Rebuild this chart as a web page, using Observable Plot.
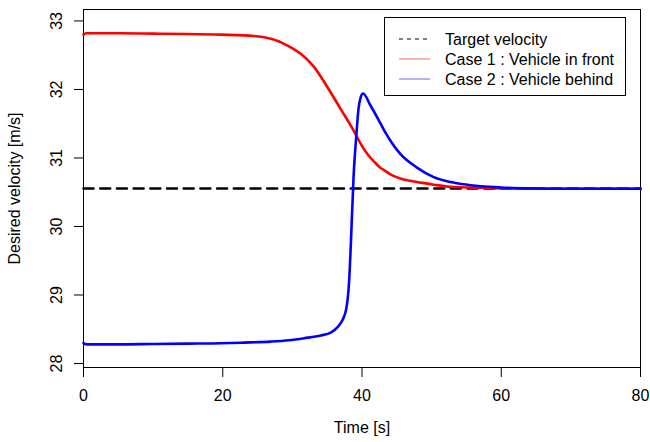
<!DOCTYPE html>
<html>
<head>
<meta charset="utf-8">
<script src="https://cdn.jsdelivr.net/npm/d3@7"></script>
<script src="https://cdn.jsdelivr.net/npm/@observablehq/plot@0.6"></script>
<style>
  html, body { margin: 0; padding: 0; background: #fff; }
  #wrap { position: relative; width: 650px; height: 442px; font-family: "Liberation Sans", Arial, sans-serif; }
  #legend { position: absolute; left: 384px; top: 17px; width: 242px; height: 79px; border: 1px solid #000; background: #fff; box-sizing: border-box; }
  #legend svg { position: absolute; left: 0; top: 0; }
</style>
</head>
<body>
<div id="wrap"></div>
<script>
const targetVelocity = 30.553;

const timeCase1 = [0, 0.4, 5, 10, 15, 19.7, 24.5, 26.9, 28.1, 29.3, 30.2, 31.2, 33.1, 35.0, 36.9, 38.8, 39.8, 40.8, 41.8, 42.5, 43.2, 44.3, 45.5, 46.7, 47.9, 50.3, 52.7, 57.5, 62, 70, 80];
const velCase1 = [32.80, 32.82, 32.82, 32.815, 32.81, 32.80, 32.78, 32.74, 32.70, 32.64, 32.59, 32.52, 32.33, 32.04, 31.72, 31.40, 31.21, 31.055, 30.94, 30.87, 30.82, 30.75, 30.70, 30.67, 30.65, 30.61, 30.58, 30.565, 30.555, 30.55, 30.55];

const timeCase2 = [0, 0.4, 5, 10, 15, 19.7, 23, 26.9, 29.5, 31.7, 34.1, 35.5, 36.5, 37.0, 37.4, 37.7, 37.95, 38.15, 38.4, 38.8, 39.2, 39.5, 39.8, 40.15, 41.2, 42.2, 43.2, 44.3, 45.5, 47.9, 50.3, 52.7, 55.1, 59.9, 65, 70, 80];
const velCase2 = [28.30, 28.28, 28.28, 28.285, 28.29, 28.295, 28.305, 28.32, 28.34, 28.37, 28.41, 28.45, 28.53, 28.60, 28.68, 28.78, 28.95, 29.2, 29.75, 30.75, 31.35, 31.72, 31.88, 31.94, 31.77, 31.59, 31.40, 31.22, 31.06, 30.86, 30.72, 30.65, 30.61, 30.57, 30.555, 30.55, 30.55];

const xTicks = [0, 20, 40, 60, 80];
const yTicks = [28, 29, 30, 31, 32, 33];
const legendLabels = ["Target velocity", "Case 1 : Vehicle in front", "Case 2 : Vehicle behind"];
const legendColors = ["#000000", "#ff0000", "#0000ff"];

const case1 = timeCase1.map((t, i) => ({t, v: velCase1[i]}));
const case2 = timeCase2.map((t, i) => ({t, v: velCase2[i]}));
const target = [{t: 0, v: targetVelocity}, {t: 80, v: targetVelocity}];

const chart = Plot.plot({
  width: 650,
  height: 442,
  marginLeft: 83,
  marginRight: 10,
  marginTop: 9,
  marginBottom: 75,
  style: {fontFamily: '"Liberation Sans", Arial, sans-serif', fontSize: "16px", color: "#000", background: "#fff"},
  x: {domain: [0, 80]},
  y: {domain: [27.942, 33.167]},
  marks: [
    Plot.frame({stroke: "#000", strokeWidth: 1}),
    Plot.axisX({ticks: xTicks, tickSize: 10, tickPadding: 12, stroke: "#000", fontSize: 16, tickFormat: "d",
      label: "Time [s]", labelAnchor: "center", labelArrow: "none", labelOffset: 65}),
    Plot.axisY({ticks: yTicks, tickSize: 9, tickPadding: 13, tickRotate: -90, stroke: "#000", fontSize: 16, tickFormat: "d",
      label: "Desired velocity [m/s]", labelAnchor: "center", labelArrow: "none", labelOffset: 75}),
    Plot.line(target, {x: "t", y: "v", stroke: "#000", strokeWidth: 2.5, strokeDasharray: "10,6.7"}),
    Plot.line(case1, {x: "t", y: "v", stroke: "#ff0000", strokeWidth: 2.6, curve: "monotone-x"}),
    Plot.line(case2, {x: "t", y: "v", stroke: "#0000ff", strokeWidth: 2.6, curve: "monotone-x"})
  ]
});

const wrap = document.getElementById("wrap");
wrap.appendChild(chart);

// legend
const leg = document.createElement("div");
leg.id = "legend";
const ns = "http://www.w3.org/2000/svg";
const svg = document.createElementNS(ns, "svg");
svg.setAttribute("width", 242);
svg.setAttribute("height", 79);
legendLabels.forEach((lab, i) => {
  const y = 21 + i * 20;
  const ln = document.createElementNS(ns, "line");
  ln.setAttribute("x1", 14); ln.setAttribute("x2", 45);
  ln.setAttribute("y1", y); ln.setAttribute("y2", y);
  ln.setAttribute("stroke", legendColors[i]);
  ln.setAttribute("stroke-width", 1);
  if (i === 0) ln.setAttribute("stroke-dasharray", "4,4");
  else ln.setAttribute("stroke-opacity", 0.6);
  svg.appendChild(ln);
  const tx = document.createElementNS(ns, "text");
  tx.setAttribute("x", 60); tx.setAttribute("y", y);
  tx.setAttribute("dy", "0.35em");
  tx.setAttribute("font-size", 16);
  tx.setAttribute("font-family", '"Liberation Sans", Arial, sans-serif');
  tx.textContent = lab;
  svg.appendChild(tx);
});
leg.appendChild(svg);
wrap.appendChild(leg);
</script>
</body>
</html>
